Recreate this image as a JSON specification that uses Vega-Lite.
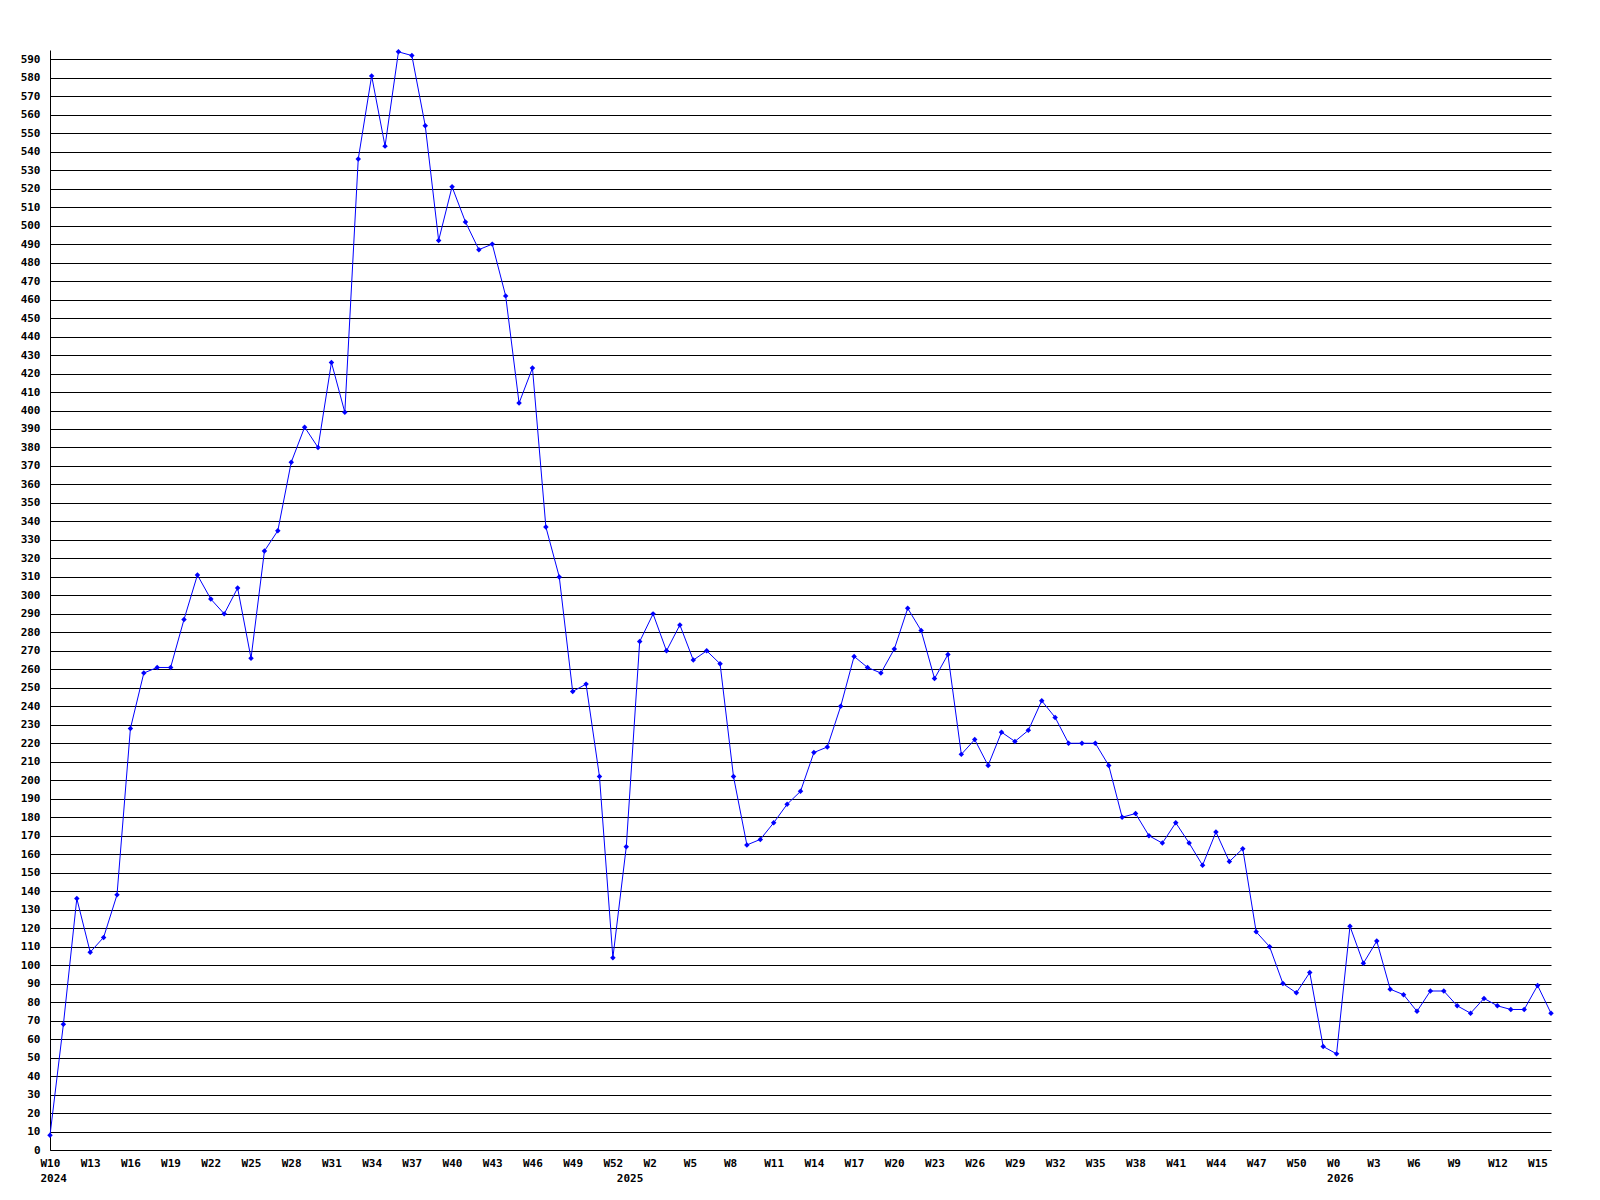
{
  "$schema": "https://vega.github.io/schema/vega-lite/v6.json",
  "autosize": "none",
  "width": 1501,
  "height": 1100,
  "padding": {"left": 50, "top": 50, "right": 49, "bottom": 50},
  "background": "white",
  "config": {"view": {"stroke": null}},
  "data": {"values": [
    {"week": "2024-W10", "value": 8}, {"week": "2024-W11", "value": 68}, {"week": "2024-W12", "value": 136},
    {"week": "2024-W13", "value": 107}, {"week": "2024-W14", "value": 115}, {"week": "2024-W15", "value": 138},
    {"week": "2024-W16", "value": 228}, {"week": "2024-W17", "value": 258}, {"week": "2024-W18", "value": 261},
    {"week": "2024-W19", "value": 261}, {"week": "2024-W20", "value": 287}, {"week": "2024-W21", "value": 311},
    {"week": "2024-W22", "value": 298}, {"week": "2024-W23", "value": 290}, {"week": "2024-W24", "value": 304},
    {"week": "2024-W25", "value": 266}, {"week": "2024-W26", "value": 324}, {"week": "2024-W27", "value": 335},
    {"week": "2024-W28", "value": 372}, {"week": "2024-W29", "value": 391}, {"week": "2024-W30", "value": 380},
    {"week": "2024-W31", "value": 426}, {"week": "2024-W32", "value": 399}, {"week": "2024-W33", "value": 536},
    {"week": "2024-W34", "value": 581}, {"week": "2024-W35", "value": 543}, {"week": "2024-W36", "value": 594},
    {"week": "2024-W37", "value": 592}, {"week": "2024-W38", "value": 554}, {"week": "2024-W39", "value": 492},
    {"week": "2024-W40", "value": 521}, {"week": "2024-W41", "value": 502}, {"week": "2024-W42", "value": 487},
    {"week": "2024-W43", "value": 490}, {"week": "2024-W44", "value": 462}, {"week": "2024-W45", "value": 404},
    {"week": "2024-W46", "value": 423}, {"week": "2024-W47", "value": 337}, {"week": "2024-W48", "value": 310},
    {"week": "2024-W49", "value": 248}, {"week": "2024-W50", "value": 252}, {"week": "2024-W51", "value": 202},
    {"week": "2024-W52", "value": 104},
    {"week": "2025-W0", "value": 164}, {"week": "2025-W1", "value": 275}, {"week": "2025-W2", "value": 290},
    {"week": "2025-W3", "value": 270}, {"week": "2025-W4", "value": 284}, {"week": "2025-W5", "value": 265},
    {"week": "2025-W6", "value": 270}, {"week": "2025-W7", "value": 263}, {"week": "2025-W8", "value": 202},
    {"week": "2025-W9", "value": 165}, {"week": "2025-W10", "value": 168}, {"week": "2025-W11", "value": 177},
    {"week": "2025-W12", "value": 187}, {"week": "2025-W13", "value": 194}, {"week": "2025-W14", "value": 215},
    {"week": "2025-W15", "value": 218}, {"week": "2025-W16", "value": 240}, {"week": "2025-W17", "value": 267},
    {"week": "2025-W18", "value": 261}, {"week": "2025-W19", "value": 258}, {"week": "2025-W20", "value": 271},
    {"week": "2025-W21", "value": 293}, {"week": "2025-W22", "value": 281}, {"week": "2025-W23", "value": 255},
    {"week": "2025-W24", "value": 268}, {"week": "2025-W25", "value": 214}, {"week": "2025-W26", "value": 222},
    {"week": "2025-W27", "value": 208}, {"week": "2025-W28", "value": 226}, {"week": "2025-W29", "value": 221},
    {"week": "2025-W30", "value": 227}, {"week": "2025-W31", "value": 243}, {"week": "2025-W32", "value": 234},
    {"week": "2025-W33", "value": 220}, {"week": "2025-W34", "value": 220}, {"week": "2025-W35", "value": 220},
    {"week": "2025-W36", "value": 208}, {"week": "2025-W37", "value": 180}, {"week": "2025-W38", "value": 182},
    {"week": "2025-W39", "value": 170}, {"week": "2025-W40", "value": 166}, {"week": "2025-W41", "value": 177},
    {"week": "2025-W42", "value": 166}, {"week": "2025-W43", "value": 154}, {"week": "2025-W44", "value": 172},
    {"week": "2025-W45", "value": 156}, {"week": "2025-W46", "value": 163}, {"week": "2025-W47", "value": 118},
    {"week": "2025-W48", "value": 110}, {"week": "2025-W49", "value": 90}, {"week": "2025-W50", "value": 85},
    {"week": "2025-W51", "value": 96}, {"week": "2025-W52", "value": 56},
    {"week": "2026-W0", "value": 52}, {"week": "2026-W1", "value": 121}, {"week": "2026-W2", "value": 101},
    {"week": "2026-W3", "value": 113}, {"week": "2026-W4", "value": 87}, {"week": "2026-W5", "value": 84},
    {"week": "2026-W6", "value": 75}, {"week": "2026-W7", "value": 86}, {"week": "2026-W8", "value": 86},
    {"week": "2026-W9", "value": 78}, {"week": "2026-W10", "value": 74}, {"week": "2026-W11", "value": 82},
    {"week": "2026-W12", "value": 78}, {"week": "2026-W13", "value": 76}, {"week": "2026-W14", "value": 76},
    {"week": "2026-W15", "value": 89}, {"week": "2026-W16", "value": 74}
  ]},
  "encoding": {
    "x": {
      "field": "week", "type": "ordinal", "sort": null,
      "scale": {"type": "point", "padding": 0},
      "axis": {
        "title": null,
        "values": ["2024-W10","2024-W13","2024-W16","2024-W19","2024-W22","2024-W25","2024-W28","2024-W31","2024-W34","2024-W37","2024-W40","2024-W43","2024-W46","2024-W49","2024-W52","2025-W0","2025-W2","2025-W5","2025-W8","2025-W11","2025-W14","2025-W17","2025-W20","2025-W23","2025-W26","2025-W29","2025-W32","2025-W35","2025-W38","2025-W41","2025-W44","2025-W47","2025-W50","2026-W0","2026-W3","2026-W6","2026-W9","2026-W12","2026-W15"],
        "labelExpr": "datum.value == '2025-W0' ? ['', '2025'] : ((datum.value == '2024-W10' || datum.value == '2026-W0') ? [split(datum.value, '-')[1], split(datum.value, '-')[0]] : split(datum.value, '-')[1])",
        "labelAngle": 0,
        "labelAlign": "left",
        "labelOffset": -10,
        "labelBaseline": "top",
        "labelLineHeight": 15,
        "labelPadding": 7,
        "labelOverlap": false,
        "labelBound": false,
        "labelFlush": false,
        "labelFont": "DejaVu Sans Mono",
        "labelFontWeight": "bold",
        "labelFontSize": 11,
        "labelColor": "black",
        "ticks": false,
        "tickSize": 0,
        "domainColor": "black",
        "domainWidth": 1,
        "grid": false
      }
    },
    "y": {
      "field": "value", "type": "quantitative",
      "scale": {"domain": [0, 595], "nice": false, "zero": true},
      "axis": {
        "title": null,
        "values": [0,10,20,30,40,50,60,70,80,90,100,110,120,130,140,150,160,170,180,190,200,210,220,230,240,250,260,270,280,290,300,310,320,330,340,350,360,370,380,390,400,410,420,430,440,450,460,470,480,490,500,510,520,530,540,550,560,570,580,590],
        "labelFont": "DejaVu Sans Mono",
        "labelFontWeight": "bold",
        "labelFontSize": 11,
        "labelColor": "black",
        "labelPadding": 10,
        "labelOverlap": false,
        "labelFlush": false,
        "ticks": false,
        "tickSize": 0,
        "domainColor": "black",
        "domainWidth": 1,
        "grid": true,
        "gridColor": "black",
        "gridOpacity": 1,
        "gridWidth": 1
      }
    }
  },
  "layer": [
    {"mark": {"type": "line", "color": "#0000ff", "strokeWidth": 1}},
    {"mark": {"type": "point", "shape": "diamond", "filled": true, "color": "#0000ff", "size": 30, "opacity": 1}}
  ]
}
